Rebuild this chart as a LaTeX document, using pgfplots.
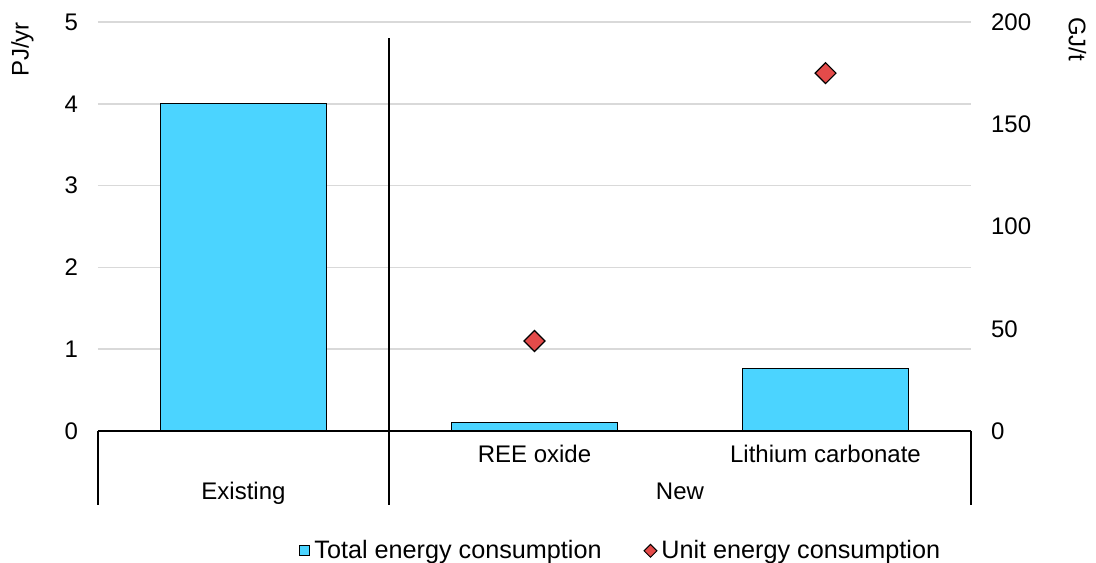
\documentclass[border=0pt]{standalone}
\usepackage{pgfplots}
\pgfplotsset{compat=1.18}
\usepackage{fontspec}
\setmainfont{Liberation Sans}
\definecolor{barblue}{RGB}{75,212,255}
\definecolor{diared}{RGB}{228,75,74}
\definecolor{gridgray}{RGB}{217,217,217}

\begin{document}
\begin{tikzpicture}[font=\fontsize{12}{14}\selectfont]
\begin{axis}[
     scale only axis,
     width=436.5pt, height=204.5pt,
     xmin=-0.5, xmax=2.5, ymin=0, ymax=5,
     axis lines*=left,
     y axis line style={draw=none},
     x axis line style={black, line width=0.7pt},
     xtick={1,2},
     xticklabels={REE oxide, Lithium carbonate},
     xticklabel style={anchor=base, yshift=-15.5pt},
     ytick={0,1,2,3,4,5},
     yticklabel style={xshift=-6.5pt},
     major tick length=0pt,
     ymajorgrids,
     major grid style={gridgray, line width=0.8pt},
     /pgf/number format/assume math mode=true,
     clip=false,
     legend columns=2,
     legend style={draw=none, fill=none, at={(0.6,-0.293)}, anchor=center,
                   font=\fontsize{12.6}{14}\selectfont,
                   /tikz/every even column/.append style={column sep=19pt},
                   /tikz/every odd column/.append style={column sep=0pt}},
     ]
     \addplot[ybar, bar width=83pt, fill=barblue, draw=black, line width=0.6pt, forget plot]
          coordinates {(0,4) (1,0.1) (2,0.76)};
     \addlegendimage{legend image code/.code={
          \draw[fill=barblue, draw=black, line width=0.5pt] (0pt,-2.5pt) rectangle (5pt,2.5pt);}}
     \addlegendentry{Total energy consumption}
     \addlegendimage{legend image code/.code={
          \draw[fill=diared, draw=black, line width=0.5pt] (0pt,0pt) -- (3.2pt,3.2pt) -- (6.4pt,0pt) -- (3.2pt,-3.2pt) -- cycle;}}
     \addlegendentry{Unit energy consumption}
     % group separators
     \draw[black, line width=0.6pt] (axis cs:-0.5,0) -- ++(0pt,-37pt);
     \draw[black, line width=0.6pt] (axis cs:0.5,4.8) -- (axis cs:0.5,0) -- ++(0pt,-37pt);
     \draw[black, line width=0.6pt] (axis cs:2.5,0) -- ++(0pt,-37pt);
     \node[anchor=base] at ([yshift=-34pt]axis cs:0,0) {Existing};
     \node[anchor=base] at ([yshift=-34pt]axis cs:1.5,0) {New};
     \node[rotate=90, anchor=east] at (rel axis cs:-0.0865,1.017) {PJ/yr};
     \node[rotate=-90, anchor=west] at (rel axis cs:1.122,1.029) {GJ/t};
\end{axis}
\begin{axis}[
     scale only axis,
     width=436.5pt, height=204.5pt,
     xmin=-0.5, xmax=2.5, ymin=0, ymax=200,
     axis y line*=right,
     axis x line=none,
     y axis line style={draw=none},
     ytick={0,50,100,150,200},
     yticklabel style={xshift=6.5pt},
     major tick length=0pt,
     /pgf/number format/assume math mode=true,
     clip=false,
     ]
     \addplot[only marks, mark=square*, mark size=3.7pt,
          mark options={rotate=45, fill=diared, draw=black, line width=0.6pt}]
          coordinates {(1,44) (2,175)};
\end{axis}
\pgfresetboundingbox
\path[use as bounding box] (-49pt,-65.5pt) rectangle (499pt,215.5pt);
\end{tikzpicture}
\end{document}
